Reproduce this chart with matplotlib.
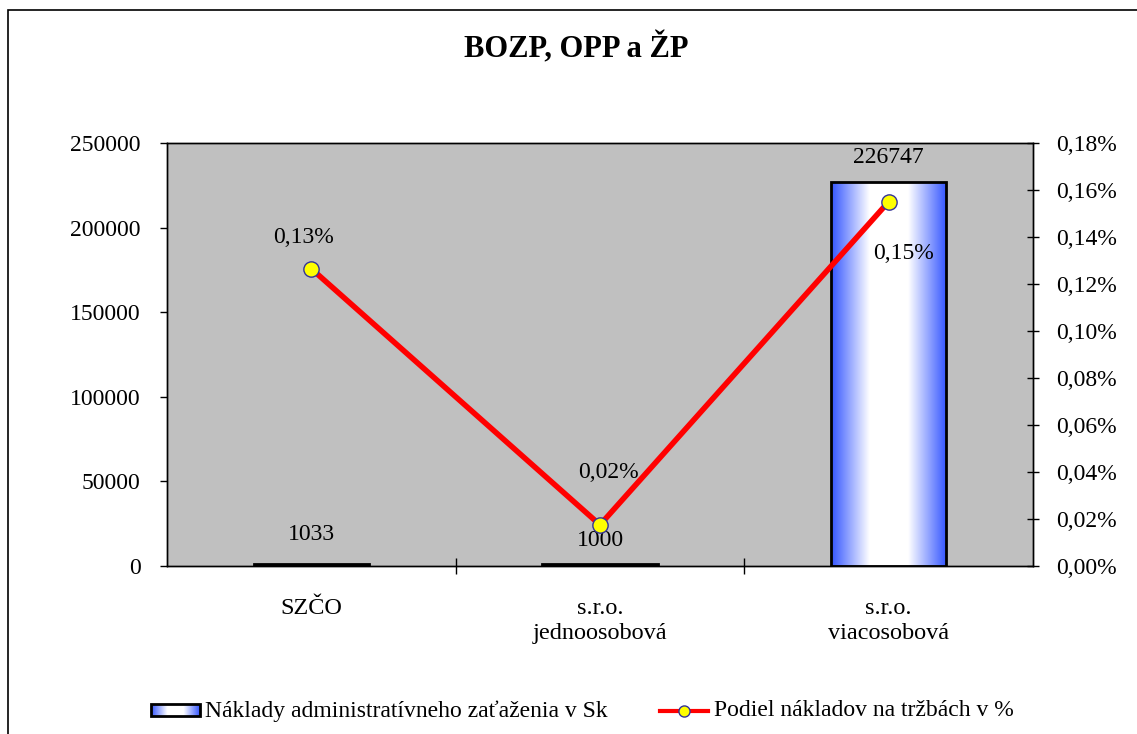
import matplotlib.pyplot as plt
import numpy as np
from matplotlib.patches import Rectangle
from matplotlib.lines import Line2D
from matplotlib.colors import LinearSegmentedColormap
from matplotlib.ticker import FuncFormatter, MultipleLocator

plt.rcParams['font.family'] = ['Liberation Serif', 'DejaVu Serif']

categories = ['SZČO', 's.r.o.\njednoosobová', 's.r.o.\nviacosobová']
costs = [1033, 1000, 226747]
share_pct = [0.1265, 0.0175, 0.155]
share_labels = ['0,13%', '0,02%', '0,15%']

blue_white = LinearSegmentedColormap.from_list('bw', ['#3355ff', '#ffffff', '#ffffff', '#3355ff'])
grad = np.linspace(0, 1, 256).reshape(1, -1)

fig = plt.figure(figsize=(11.37, 7.34), dpi=100)
fig.patches.append(Rectangle((8 / 1137, -0.1), 1.2, 1 - 10 / 734 + 0.1, transform=fig.transFigure,
                             fill=False, edgecolor='black', linewidth=1.2))

ax = fig.add_axes([0.1469, 0.2289, 0.7616, 0.5763])
ax.set_facecolor('#c0c0c0')
x = np.arange(len(categories))
width = 0.4

bars = ax.bar(x, costs, width=width, color='none', edgecolor='black', linewidth=2, zorder=3)
for b in bars:
    x0, y0 = b.get_x(), b.get_y()
    im = ax.imshow(grad, cmap=blue_white, aspect='auto', zorder=2,
                   extent=[x0, x0 + b.get_width(), y0, y0 + b.get_height()])
    im.set_clip_path(b)

ax.set_xlim(-0.5, 2.5)
ax.set_ylim(0, 250000)
ax.yaxis.set_major_locator(MultipleLocator(50000))
ax.set_xticks([0.5, 1.5])
ax.set_xticklabels([])
ax.tick_params(axis='x', length=11, width=1, direction='inout')
ax.tick_params(axis='y', length=5, width=1, direction='out', labelsize=17, pad=14)
for i, c in enumerate(categories):
    ax.text(i, -0.075, c, transform=ax.get_xaxis_transform(), ha='center', va='top',
            fontsize=17.5, linespacing=1.25)

cost_offsets = [30, 24, 25]
for i, v in enumerate(costs):
    ax.annotate(str(v), (x[i], v), xytext=(0, cost_offsets[i]), textcoords='offset pixels',
                ha='center', va='center', fontsize=17)

ax2 = ax.twinx()
ax2.set_ylim(0, 0.18)
ax2.yaxis.set_major_locator(MultipleLocator(0.02))
ax2.yaxis.set_major_formatter(FuncFormatter(lambda v, p: f'{v:.2f}%'.replace('.', ',')))
ax2.tick_params(axis='y', length=9, width=1, direction='inout', labelsize=17, pad=12)
ax2.plot(x, share_pct, color='#ff0000', linewidth=4, marker='o', markersize=11,
         markerfacecolor='#ffff00', markeredgecolor='#333399', markeredgewidth=1, zorder=4)
offsets = [(-8, 31), (8, 52), (15, -52)]
for i, v in enumerate(share_pct):
    ax2.annotate(share_labels[i], (x[i], v), xytext=offsets[i], textcoords='offset pixels',
                 ha='center', va='center', fontsize=17)

for a in (ax, ax2):
    for s in a.spines.values():
        s.set_linewidth(1)
ax.set_zorder(1)
ax2.set_zorder(2)
ax2.patch.set_visible(False)

fig.text(576 / 1137, 1 - 48 / 734, 'BOZP, OPP a ŽP', ha='center', va='center', fontsize=22, fontweight='bold')

# legend drawn by hand to keep the gradient swatch
lax = fig.add_axes([0, 0, 1, 1], facecolor='none')
lax.set_xlim(0, 1137)
lax.set_ylim(734, 0)
lax.axis('off')
lax.imshow(grad, cmap=blue_white, aspect='auto', extent=[151, 200, 716, 704], zorder=2)
lax.add_patch(Rectangle((151, 704), 49, 12, fill=False, edgecolor='black', linewidth=2, zorder=3))
lax.text(205, 711, 'Náklady administratívneho zaťaženia v Sk', va='center', ha='left', fontsize=17)
lax.add_line(Line2D([660, 708], [711, 711], color='#ff0000', linewidth=3))
lax.plot([684], [711], marker='o', markersize=8, markerfacecolor='#ffff00', markeredgecolor='#333399')
lax.text(714, 711, 'Podiel nákladov na tržbách v %', va='center', ha='left', fontsize=17)

fig.savefig('out.png', dpi=100)
